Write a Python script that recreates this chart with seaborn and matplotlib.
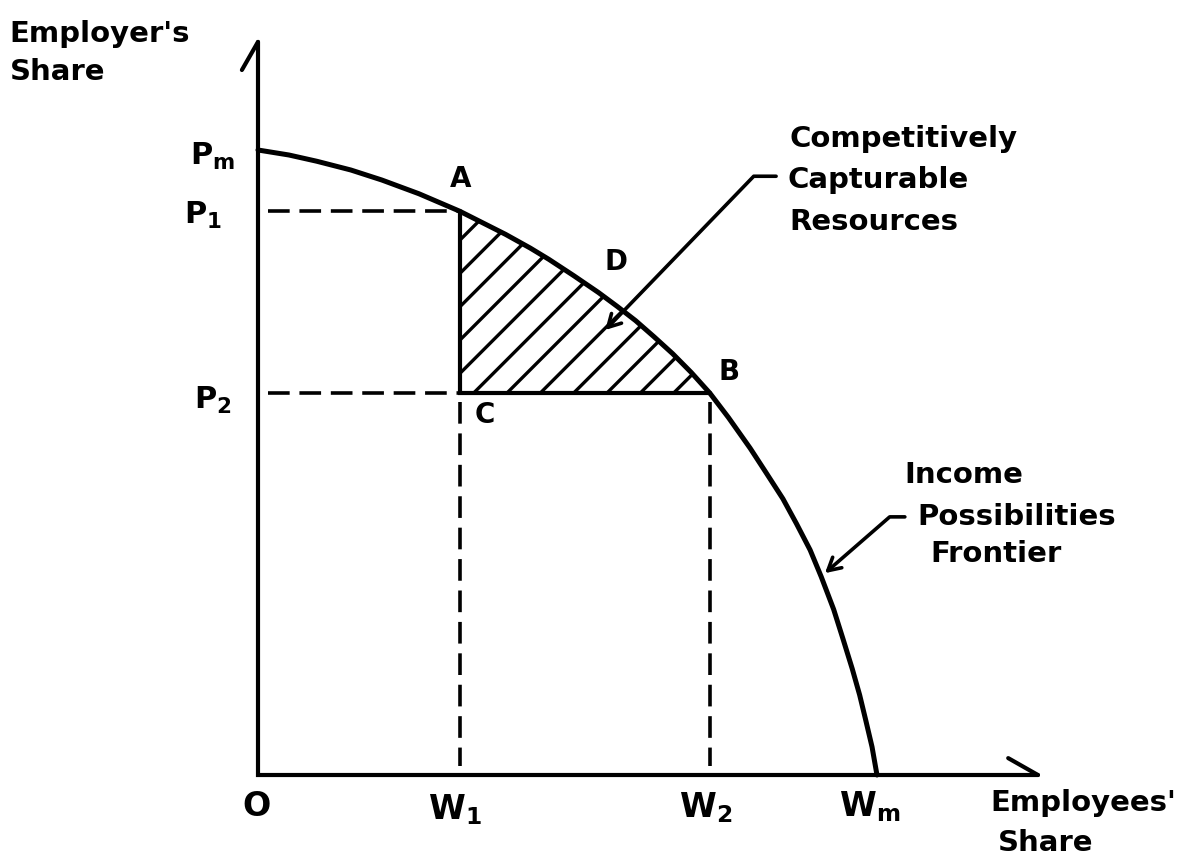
import matplotlib
matplotlib.use('Agg')
import matplotlib.pyplot as plt
import seaborn as sns
import pandas as pd
import numpy as np

# frontier (Wm = 1, Pm = 1)
frontier_x = [0.0, 0.05, 0.095, 0.15, 0.200, 0.26, 0.326, 0.36, 0.400, 0.44,
              0.470, 0.51, 0.550, 0.58, 0.610, 0.64, 0.670, 0.70, 0.730, 0.76,
              0.795, 0.82, 0.848, 0.87, 0.892, 0.91, 0.930, 0.945, 0.960,
              0.972, 0.982, 0.992, 1.0]
frontier_y = [1.0, 0.992, 0.982, 0.968, 0.952, 0.930, 0.902, 0.885, 0.865, 0.843,
              0.825, 0.799, 0.772, 0.750, 0.727, 0.701, 0.674, 0.644, 0.611, 0.572,
              0.523, 0.485, 0.442, 0.402, 0.360, 0.317, 0.265, 0.218, 0.170,
              0.128, 0.087, 0.045, 0.0]
W1, W2, Wm = 0.326, 0.730, 1.0
P1, P2, Pm = 0.902, 0.611, 1.0

sns.set_style('white')
plt.rcParams['font.family'] = ['DejaVu Sans']
plt.rcParams['font.weight'] = 'bold'
plt.rcParams['text.color'] = 'black'
plt.rcParams['mathtext.fontset'] = 'dejavusans'
plt.rcParams['mathtext.default'] = 'bf'
plt.rcParams['hatch.linewidth'] = 1.2
plt.rcParams['hatch.color'] = 'black'

fig = plt.figure(figsize=(5.955, 4.33), dpi=200)
ax = fig.add_axes([0, 0, 1, 1])
ax.set_xlim(-0.4168, 1.5073)
ax.set_ylim(-0.1456, 1.24)
ax.axis('off')

df = pd.DataFrame({'x': frontier_x, 'y': frontier_y})
sns.lineplot(data=df, x='x', y='y', color='black', lw=1.8, ax=ax, sort=False)

# hatched region A-C-B
fx = np.array(frontier_x)
fy = np.array(frontier_y)
m = (fx >= W1) & (fx <= W2)
ax.fill(np.r_[W1, fx[m], W2], np.r_[P2, fy[m], P2], facecolor='none',
        edgecolor='black', lw=0, hatch='//')
ax.plot([W1, W1, W2], [P1, P2, P2], color='black', lw=1.5, solid_joinstyle='miter')

# dashed guides
dash = dict(color='black', lw=1.3, dashes=(6, 2.7))
ax.plot([0.016, W1], [P1, P1], **dash)
ax.plot([0.016, W1], [P2, P2], **dash)
ax.plot([W1, W1], [P2 - 0.014, 0.014], **dash)
ax.plot([W2, W2], [P2 - 0.014, 0.014], **dash)

# axes with hooked arrows
ax.plot([0, 0, 1.260], [1.173, 0, 0], color='black', lw=1.5, solid_joinstyle='miter')
ax.plot([-0.026, 0], [1.128, 1.173], color='black', lw=1.5)
ax.plot([1.212, 1.260], [0.027, 0], color='black', lw=1.5)

# tick-like labels
ax.text(-0.037, 0.989, '$P_m$', fontsize=11, ha='right', va='center')
ax.text(-0.058, 0.895, '$P_1$', fontsize=11, ha='right', va='center')
ax.text(-0.042, 0.600, '$P_2$', fontsize=11, ha='right', va='center')
ax.text(-0.002, -0.051, 'O', fontsize=12, ha='center', va='center')
ax.text(0.318, -0.056, '$W_1$', fontsize=12, ha='center', va='center')
ax.text(0.724, -0.053, '$W_2$', fontsize=12, ha='center', va='center')
ax.text(0.989, -0.050, '$W_m$', fontsize=12, ha='center', va='center')

# point letters
ax.text(0.328, 0.941, 'A', fontsize=10, ha='center', va='baseline')
ax.text(0.578, 0.808, 'D', fontsize=10, ha='center', va='baseline')
ax.text(0.761, 0.632, 'B', fontsize=10, ha='center', va='baseline')
ax.text(0.366, 0.563, 'C', fontsize=10, ha='center', va='baseline')

# axis titles
fs = 10.5
ax.text(-0.401, 1.173, "Employer's", fontsize=fs, ha='left', va='baseline')
ax.text(-0.401, 1.112, 'Share', fontsize=fs, ha='left', va='baseline')
ax.text(1.183, -0.058, "Employees'", fontsize=fs, ha='left', va='baseline')
ax.text(1.195, -0.122, 'Share', fontsize=fs, ha='left', va='baseline')

# callouts
ax.text(0.858, 1.005, 'Competitively', fontsize=fs, ha='left', va='baseline')
ax.text(0.855, 0.939, 'Capturable', fontsize=fs, ha='left', va='baseline')
ax.text(0.858, 0.872, 'Resources', fontsize=fs, ha='left', va='baseline')
ax.annotate('', xy=(0.561, 0.712), xytext=(0.837, 0.958),
            arrowprops=dict(arrowstyle='->,head_length=0.45,head_width=0.25', color='black',
                            lw=1.3, shrinkA=0, shrinkB=0,
                            connectionstyle='angle,angleA=0,angleB=46,rad=0'))

ax.text(1.045, 0.467, 'Income', fontsize=fs, ha='left', va='baseline')
ax.text(1.065, 0.400, 'Possibilities', fontsize=fs, ha='left', va='baseline')
ax.text(1.086, 0.341, 'Frontier', fontsize=fs, ha='left', va='baseline')
ax.annotate('', xy=(0.916, 0.323), xytext=(1.045, 0.413),
            arrowprops=dict(arrowstyle='->,head_length=0.45,head_width=0.25', color='black',
                            lw=1.3, shrinkA=0, shrinkB=0,
                            connectionstyle='angle,angleA=0,angleB=41,rad=0'))

fig.savefig('out.png', dpi=200)
